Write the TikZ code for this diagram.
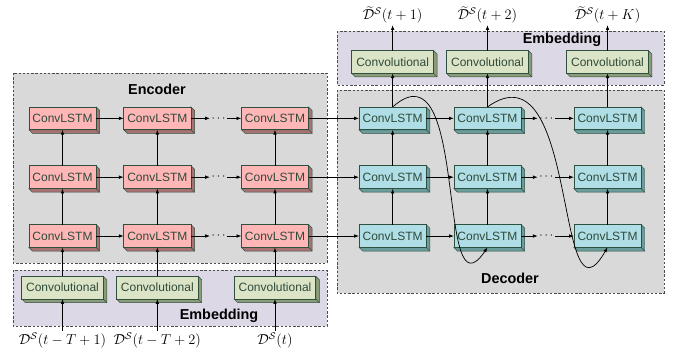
\documentclass[tikz,border=0pt]{standalone}
\usepackage{fontspec}
\newfontfamily\boxfont{Liberation Sans}
\usetikzlibrary{positioning,arrows.meta}

\definecolor{boxedge}{HTML}{2F4F3F}
\definecolor{boxtext}{HTML}{2F4A3A}
\definecolor{encface}{HTML}{FFB6B6}
\definecolor{encside}{HTML}{A87272}
\definecolor{decface}{HTML}{B0DEE6}
\definecolor{decside}{HTML}{6A9C9C}
\definecolor{convface}{HTML}{DCE4C8}
\definecolor{convside}{HTML}{8C9C78}
\definecolor{groupgray}{HTML}{D9D9D9}
\definecolor{embedlav}{HTML}{DDD8E6}

\tikzset{
  cube/.style={rectangle, draw=boxedge, text=boxtext, font=\boxfont, minimum height=19pt, inner sep=2pt, outer sep=0pt,
    append after command={\pgfextra{\let\cubenode\tikzlastnode
      \draw[boxedge, fill=#1, line width=0.4pt]
        (\cubenode.north east) -- ++(3pt,-3pt) -- ([shift={(3pt,-3pt)}]\cubenode.south east)
        -- ([shift={(3pt,-3pt)}]\cubenode.south west) -- (\cubenode.south west) -- (\cubenode.south east) -- cycle;
      \draw[boxedge, line width=0.4pt] (\cubenode.south east) -- ++(3pt,-3pt);}}}
}
\tikzstyle{lstmenc}    = [cube=encside, fill=encface, minimum width=56pt]
\tikzstyle{lstmdec}    = [cube=decside, fill=decface, minimum width=56pt]
\tikzstyle{convblock}  = [cube=convside, fill=convface, minimum width=68pt]
\tikzstyle{dots}       = [inner sep=1pt]
\tikzstyle{datalabel}  = [font=\large, inner sep=1pt]
\tikzstyle{groupbox}   = [draw=black!70, dash pattern=on 2pt off 1.5pt, line width=0.5pt]
\tikzstyle{grouplabel} = [font=\boxfont\large\bfseries]

\begin{document}
\begin{tikzpicture}[x=0.833pt, y=-0.833pt, node distance=49pt, >={Latex[length=4pt,width=3pt]}, line width=0.6pt]
        \useasboundingbox (0,0) rectangle (677,358);
        % group frames
        \draw[groupbox, fill=groupgray] (13,73) rectangle (327,263);
        \draw[groupbox, fill=embedlav]  (13,270) rectangle (327,326);
        \draw[groupbox, fill=groupgray] (337,90) rectangle (664,293);
        \draw[groupbox, fill=embedlav]  (337,31) rectangle (664,85);
        \node (enc)    [grouplabel] at (157,89)  {Encoder};
        \node (dec)    [grouplabel] at (510,278) {Decoder};
        \node (embin)  [grouplabel] at (219,316) {Embedding};
        \node (embout) [grouplabel] at (562,40)  {Embedding};
        % encoder
        \node (e31) [lstmenc] at (62.5,236)                          {ConvLSTM};
        \node (e21) [lstmenc, above of=e31]                          {ConvLSTM};
        \node (e11) [lstmenc, above of=e21]                          {ConvLSTM};
        \node (e32) [lstmenc, node distance=79pt, right of=e31]      {ConvLSTM};
        \node (e22) [lstmenc, above of=e32]                          {ConvLSTM};
        \node (e12) [lstmenc, above of=e22]                          {ConvLSTM};
        \node (e33) [lstmenc, node distance=98pt, right of=e32]      {ConvLSTM};
        \node (e23) [lstmenc, above of=e33]                          {ConvLSTM};
        \node (e13) [lstmenc, above of=e23]                          {ConvLSTM};
        \node (ed3) [dots, node distance=51pt, right of=e32]         {$\cdots$};
        \node (ed2) [dots, node distance=51pt, right of=e22]         {$\cdots$};
        \node (ed1) [dots, node distance=51pt, right of=e12]         {$\cdots$};
        \node (ce1) [convblock, node distance=43pt, below of=e31]    {Convolutional};
        \node (ce2) [convblock, node distance=43pt, below of=e32]    {Convolutional};
        \node (ce3) [convblock, node distance=43pt, below of=e33]    {Convolutional};
        \node (in1) [datalabel, node distance=44pt, below of=ce1]    {$\mathcal{D}^{\mathcal{S}}(t-T+1)$};
        \node (in2) [datalabel, node distance=44pt, below of=ce2]    {$\mathcal{D}^{\mathcal{S}}(t-T+2)$};
        \node (in3) [datalabel, node distance=44pt, below of=ce3]    {$\mathcal{D}^{\mathcal{S}}(t)$};
        % decoder
        \node (d31) [lstmdec, node distance=98pt, right of=e33]      {ConvLSTM};
        \node (d21) [lstmdec, above of=d31]                          {ConvLSTM};
        \node (d11) [lstmdec, above of=d21]                          {ConvLSTM};
        \node (d32) [lstmdec, node distance=79pt, right of=d31]      {ConvLSTM};
        \node (d22) [lstmdec, above of=d32]                          {ConvLSTM};
        \node (d12) [lstmdec, above of=d22]                          {ConvLSTM};
        \node (d33) [lstmdec, node distance=100pt, right of=d32]     {ConvLSTM};
        \node (d23) [lstmdec, above of=d33]                          {ConvLSTM};
        \node (d13) [lstmdec, above of=d23]                          {ConvLSTM};
        \node (dd3) [dots, node distance=49pt, right of=d32]         {$\cdots$};
        \node (dd2) [dots, node distance=49pt, right of=d22]         {$\cdots$};
        \node (dd1) [dots, node distance=49pt, right of=d12]         {$\cdots$};
        \node (cd1) [convblock, node distance=47pt, above of=d11]    {Convolutional};
        \node (cd2) [convblock, node distance=47pt, above of=d12]    {Convolutional};
        \node (cd3) [convblock, node distance=47pt, above of=d13]    {Convolutional};
        \node (out1) [datalabel, node distance=39pt, above of=cd1]   {$\widetilde{\mathcal{D}}^{\mathcal{S}}(t+1)$};
        \node (out2) [datalabel, node distance=39pt, above of=cd2]   {$\widetilde{\mathcal{D}}^{\mathcal{S}}(t+2)$};
        \node (out3) [datalabel, node distance=39pt, above of=cd3]   {$\widetilde{\mathcal{D}}^{\mathcal{S}}(t+K)$};
        % encoder arrows
        \draw[->] (in1) -- (ce1);
        \draw[->] (in2) -- (ce2);
        \draw[->] (in3) -- (ce3);
        \draw[->] (ce1) -- (e31);
        \draw[->] (ce2) -- (e32);
        \draw[->] (ce3) -- (e33);
        \draw[->] (e31) -- (e21);
        \draw[->] (e21) -- (e11);
        \draw[->] (e32) -- (e22);
        \draw[->] (e22) -- (e12);
        \draw[->] (e33) -- (e23);
        \draw[->] (e23) -- (e13);
        \draw[->] (e11) -- (e12);
        \draw[->] (e21) -- (e22);
        \draw[->] (e31) -- (e32);
        \draw[->] (e12) -- (ed1);
        \draw[->] (e22) -- (ed2);
        \draw[->] (e32) -- (ed3);
        \draw[->] (ed1) -- (e13);
        \draw[->] (ed2) -- (e23);
        \draw[->] (ed3) -- (e33);
        % encoder to decoder
        \draw[->] (e13) -- (d11);
        \draw[->] (e23) -- (d21);
        \draw[->] (e33) -- (d31);
        % decoder arrows
        \draw[->] (d31) -- (d21);
        \draw[->] (d21) -- (d11);
        \draw[->] (d32) -- (d22);
        \draw[->] (d22) -- (d12);
        \draw[->] (d33) -- (d23);
        \draw[->] (d23) -- (d13);
        \draw[->] (d11) -- (d12);
        \draw[->] (d21) -- (d22);
        \draw[->] (d31) -- (d32);
        \draw[->] (d12) -- (dd1);
        \draw[->] (d22) -- (dd2);
        \draw[->] (d32) -- (dd3);
        \draw[->] (dd1) -- (d13);
        \draw[->] (dd2) -- (d23);
        \draw[->] (dd3) -- (d33);
        \draw[->] (d11) -- (cd1);
        \draw[->] (d12) -- (cd2);
        \draw[->] (d13) -- (cd3);
        \draw[->] (cd1) -- (out1);
        \draw[->] (cd2) -- (out2);
        \draw[->] (cd3) -- (out3);
        % feedback of the predictions
        \draw[->] (d11.north) .. controls +(77,-68) and +(-52,77) .. (d32.south);
        \draw[->] (d12.north) .. controls +(92,-66) and +(-53,92) .. (d33.south);
    \end{tikzpicture}
\end{document}
